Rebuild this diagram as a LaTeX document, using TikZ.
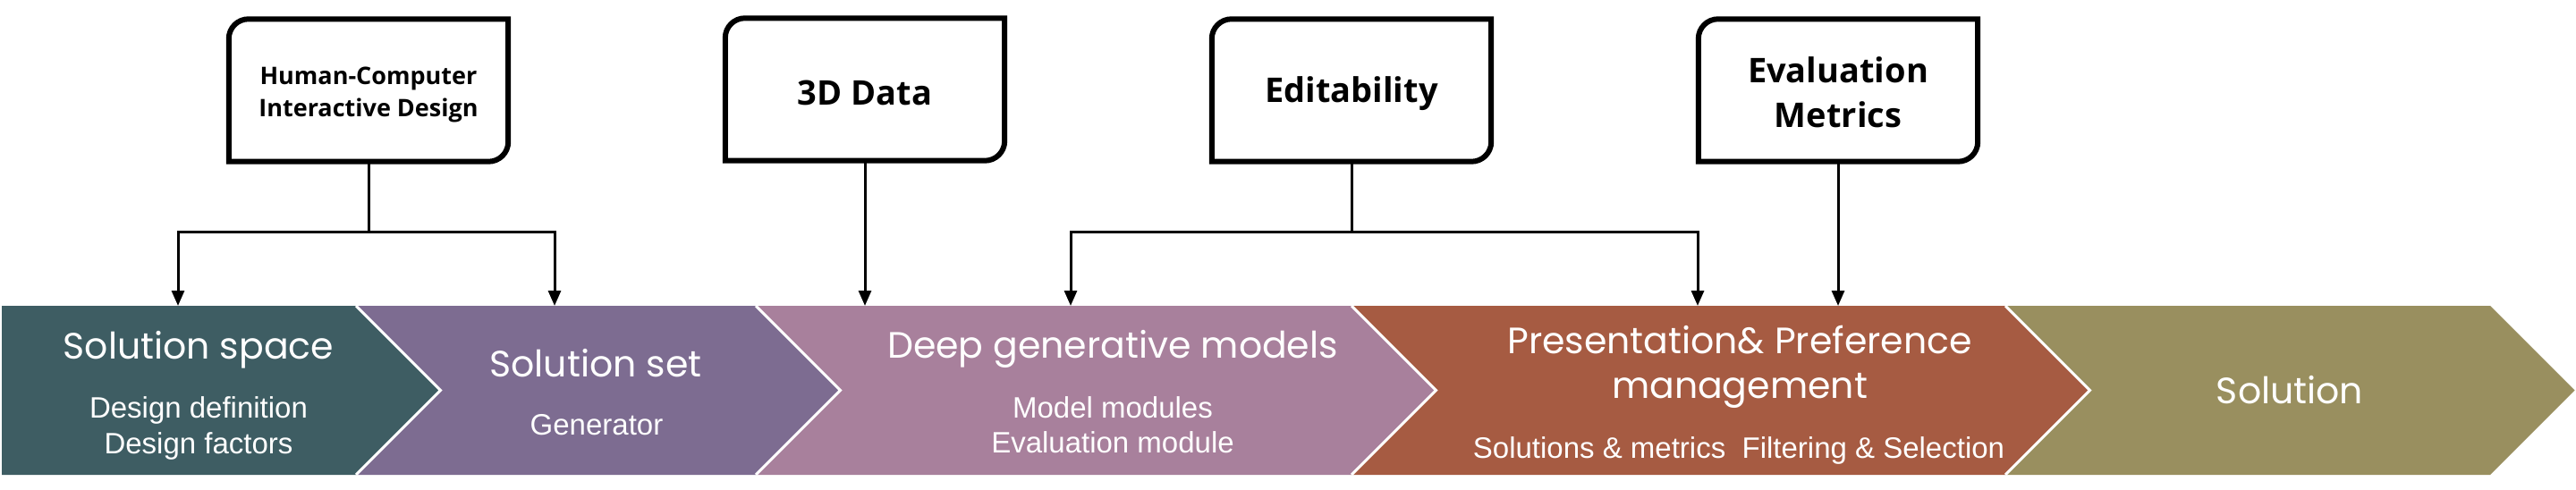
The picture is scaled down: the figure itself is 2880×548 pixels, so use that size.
\documentclass[tikz,border=0pt]{standalone}
\usepackage{fontspec}
\setmainfont{Liberation Sans}
\newfontfamily\titlefont{Poppins}
\newfontfamily\boxfontfam{Open Sans}
\usetikzlibrary{arrows.meta}
\definecolor{cA}{RGB}{62,93,99}
\definecolor{cB}{RGB}{125,108,145}
\definecolor{cC}{RGB}{168,128,156}
\definecolor{cD}{RGB}{166,91,66}
\definecolor{cE}{RGB}{153,143,95}
\begin{document}
\begin{tikzpicture}[x=1pt,y=1pt,
 topbox/.style={minimum width=312pt, minimum height=159pt, inner sep=0pt, align=center, text=black, font=\boxfontfam\bfseries\fontsize{38}{50}\selectfont},
 border/.style={line width=6pt, draw=black},
 conn/.style={line width=3pt, draw=black},
 arr/.style={conn, -{Triangle[length=17pt,width=14pt]}},
 ttl/.style={anchor=base, inner sep=0pt, text=white, font=\titlefont\fontsize{41}{50}\selectfont},
 sub/.style={anchor=base, inner sep=0pt, text=white, font=\fontsize{33}{40}\selectfont},
 sep/.style={draw=white, line width=3pt}]
\fill[white] (0,0) rectangle (2880,-548);
\useasboundingbox (0,0) rectangle (2880,-548);

% band
\fill[cA] (2,-342) -- (398,-342) -- (492.5,-436.5) -- (398,-531) -- (2,-531) -- cycle;
\fill[cB] (398,-342) -- (845,-342) -- (939.5,-436.5) -- (845,-531) -- (398,-531) -- (492.5,-436.5) -- cycle;
\fill[cC] (845,-342) -- (1511,-342) -- (1605.5,-436.5) -- (1511,-531) -- (845,-531) -- (939.5,-436.5) -- cycle;
\fill[cD] (1511,-342) -- (2242,-342) -- (2336.5,-436.5) -- (2242,-531) -- (1511,-531) -- (1605.5,-436.5) -- cycle;
\fill[cE] (2242,-342) -- (2784,-342) -- (2878.5,-436.5) -- (2784,-531) -- (2242,-531) -- (2336.5,-436.5) -- cycle;
\draw[sep] (398,-342) -- (492.5,-436.5) -- (398,-531);
\draw[sep] (845,-342) -- (939.5,-436.5) -- (845,-531);
\draw[sep] (1511,-342) -- (1605.5,-436.5) -- (1511,-531);
\draw[sep] (2242,-342) -- (2336.5,-436.5) -- (2242,-531);

% band texts
\node[ttl] (t1) at (222,-401) {Solution space};
\node[sub] (s1a) at (222,-467) {Design definition};
\node[sub] (s1b) at (222,-507) {Design factors};
\node[ttl] (t2) at (666,-421) {Solution set};
\node[sub] (s2) at (667,-486) {Generator};
\node[ttl] (t3) at (1244,-400) {Deep generative models};
\node[sub] (s3a) at (1244,-467) {Model modules};
\node[sub] (s3b) at (1244,-506) {Evaluation module};
\node[ttl] (t4a) at (1945,-395) {Presentation\& Preference};
\node[ttl] (t4b) at (1945,-445) {management};
\node[sub] (s4) at (1944,-512) {Solutions \& metrics\ \ Filtering \& Selection};
\node[ttl] (t5) at (2560,-451) {Solution};

% top boxes (text centres sit a little below the frame centres)
\node[topbox, font=\boxfontfam\bfseries\fontsize{27}{36}\selectfont] (hci) at (412,-106) {Human-Computer\\Interactive Design};
\node[topbox] (data) at (967,-104) {3D Data};
\node[topbox] (edit) at (1511,-105) {Editability};
\node[topbox] (eval) at (2055,-103) {Evaluation\\Metrics};
\foreach \n/\s in {hci/5pt,data/4pt,edit/4pt,eval/2pt}
  \draw[border] ([yshift=\s]\n.south west) -- ([yshift=\s-22pt]\n.north west) arc[start angle=180,end angle=90,radius=22pt] -- ([yshift=\s]\n.north east) -- ([yshift=\s+22pt]\n.south east) arc[start angle=0,end angle=-90,radius=22pt] -- cycle;

% connectors
\coordinate (hb) at (412,-180);
\coordinate (db) at (967,-179);
\coordinate (eb) at (1511,-180);
\coordinate (vb) at (2055,-180);
\coordinate (hj) at (412,-259);
\coordinate (a1) at (199,-342);
\coordinate (a2) at (620,-342);
\coordinate (a3) at (967,-342);
\coordinate (ej) at (1511,-259);
\coordinate (a4) at (1197,-342);
\coordinate (a5) at (1898,-342);
\coordinate (a6) at (2055,-342);
\draw[conn] (hb) -- (hj);
\draw[arr] (hj) -| (a1);
\draw[arr] (hj) -| (a2);
\draw[arr] (db) -- (a3);
\draw[conn] (eb) -- (ej);
\draw[arr] (ej) -| (a4);
\draw[arr] (ej) -| (a5);
\draw[arr] (vb) -- (a6);
\end{tikzpicture}
\end{document}
